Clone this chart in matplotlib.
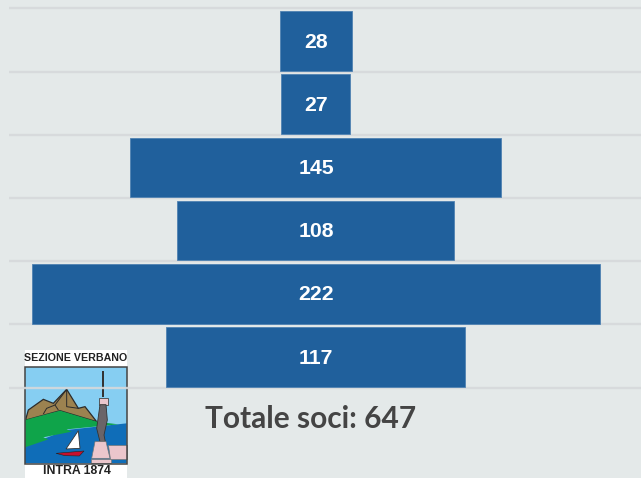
import matplotlib
matplotlib.use("Agg")
import matplotlib.pyplot as plt
from matplotlib.patches import Polygon, Rectangle

# Data
values = [28, 27, 145, 108, 222, 117]
total_label = "Totale soci: 647"
logo_top = "SEZIONE VERBANO"
logo_bottom = "INTRA 1874"

BG = "#E4E9E9"
BAR = "#20609C"
GRID = "#D6D9DB"

W, H = 641, 478
fig = plt.figure(figsize=(W / 100, H / 100), dpi=100, facecolor=BG)

# Logo layer (pixel coordinates of the figure)
lg = fig.add_axes([0, 0, 1, 1], zorder=1)
lg.set_xlim(0, W)
lg.set_ylim(H, 0)
lg.axis("off")


def z(points):
    return [(x / 3, 340 + y / 3) for x, y in points]


def poly(points, fc, ec="none", lw=0.0, zo=2, closed=True):
    lg.add_patch(Polygon(z(points), closed=closed, fc=fc, ec=ec, lw=lw, zorder=zo))


lg.add_patch(Rectangle((24.5, 350), 102.5, 128, fc="white", ec="none", zorder=1))
# sky
poly([(75, 80), (380, 80), (380, 370), (75, 370)], "#86CEF2", zo=2)
# sea
poly([(75, 320), (135, 295), (200, 270), (380, 250), (380, 370), (75, 370)], "#0F6DB8", zo=3)
# mountains
poly([(78, 235), (85, 210), (130, 178), (160, 190), (200, 148), (235, 205),
      (255, 200), (290, 245), (180, 212), (78, 240)],
     "#9C8250", ec="#2B2B2B", lw=0.9, zo=3)
poly([(130, 222), (140, 205), (165, 195), (175, 210)], "none", ec="#2B2B2B", lw=0.7, zo=3, closed=False)
poly([(165, 195), (200, 148), (200, 200), (235, 205)], "none", ec="#2B2B2B", lw=0.7, zo=3, closed=False)
# land
poly([(75, 240), (180, 212), (290, 245), (355, 253), (200, 268), (215, 275),
      (130, 292), (145, 298), (75, 322)], "#0FA44A", zo=4)
# sail and boat
poly([(235, 272), (240, 325), (198, 327)], "white", ec="#333333", lw=0.6, zo=5)
poly([(168, 340), (252, 333), (238, 348), (195, 347)], "#C8102E", ec="#222222", lw=0.4, zo=5)
# monument
poly([(307, 92), (312, 92), (312, 172), (307, 172)], "#333333", zo=5)
poly([(296, 174), (324, 174), (324, 194), (296, 194)], "#EBC6CC", ec="#444444", lw=0.6, zo=5)
poly([(300, 194), (318, 194), (322, 240), (312, 285), (316, 305), (300, 305), (290, 265)],
     "#6A6468", ec="#333333", lw=0.6, zo=5)
poly([(285, 305), (318, 305), (330, 355), (275, 355)], "#EBC6CC", ec="#777777", lw=0.5, zo=6)
poly([(325, 316), (380, 316), (380, 356), (330, 356)], "#EBC6CC", ec="#777777", lw=0.5, zo=6)
poly([(272, 356), (334, 356), (334, 369), (272, 369)], "#EBC6CC", ec="#777777", lw=0.5, zo=6)
# frame
lg.add_patch(Rectangle((25, 366.5), 101.5, 97, fc="none", ec="#444444", lw=1.1, zorder=7))
lg.text(76, 358, logo_top, ha="center", va="center", fontsize=7.7, fontweight="bold",
        family="Liberation Sans", color="#222222", zorder=8)
lg.text(77, 471.5, logo_bottom, ha="center", va="center", fontsize=8.8, fontweight="bold",
        family="Liberation Sans", color="#222222", zorder=8)

# Main chart
ax = fig.add_axes([0, 0, 1, 1], zorder=2)
ax.patch.set_alpha(0)
PX_PER_UNIT = 2.56
CENTER = 315.7
BAND = 63.2
FIRST = 41.0
ax.set_xlim(-CENTER / PX_PER_UNIT, (W - CENTER) / PX_PER_UNIT)
ax.set_ylim((H - FIRST) / BAND, -FIRST / BAND)
ax.axis("off")

ys = list(range(len(values)))
grid_left = (9 - CENTER) / PX_PER_UNIT
grid_right = (W - CENTER) / PX_PER_UNIT
boundaries = [y - 0.515 for y in ys] + [ys[-1] + 0.485]
ax.hlines(boundaries, grid_left, grid_right, color=GRID, lw=1.7, alpha=0.9, zorder=1)

ax.barh(ys, values, left=[-v / 2 for v in values], height=0.945, color=BAR,
        edgecolor="#4F82B2", linewidth=0.6, zorder=2)
for y, v in zip(ys, values):
    ax.annotate(str(v), (0, y), xytext=(0.6, -1.0), textcoords="offset pixels", ha="center",
                va="center", color="white", fontsize=15.3, fontweight="bold",
                family="Liberation Sans", zorder=3)

lg.text(310.5, 419, total_label, ha="center", va="center", fontsize=21.5, fontweight="bold",
        family="Lato", color="#444444", zorder=8)

fig.savefig("out.png", dpi=100, facecolor=BG)
